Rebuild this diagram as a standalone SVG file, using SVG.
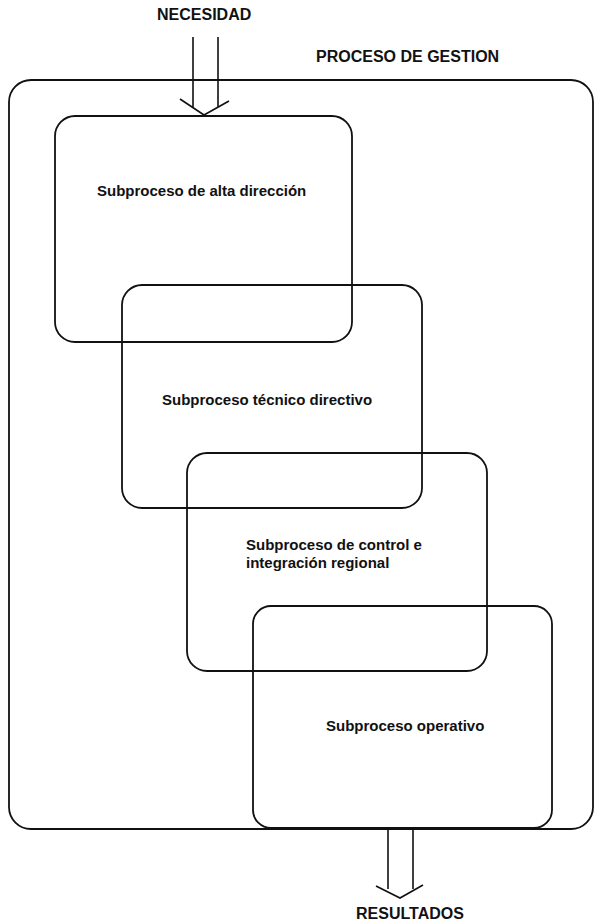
<svg xmlns="http://www.w3.org/2000/svg" width="597" height="922" viewBox="0 0 597 922">
<style>
.box{fill:none;stroke:#111;stroke-width:1.8}
.ln{fill:none;stroke:#111;stroke-width:1.6;stroke-linejoin:miter}
.t{font-family:"Liberation Sans",Arial,sans-serif;font-weight:bold;font-size:15px;fill:#111}
.c{font-family:"Liberation Sans",Arial,sans-serif;font-weight:bold;font-size:16px;fill:#111}
</style>
<rect width="597" height="922" fill="#fff"/>
<g id="proceso-gestion">
<rect class="box" x="9" y="80" width="584" height="749" rx="22"/>
<text class="c" x="316" y="62">PROCESO DE GESTION</text>
</g>
<g id="alta-direccion">
<rect class="box" x="55" y="116" width="297" height="226" rx="20"/>
<text class="t" x="97" y="196">Subproceso de alta dirección</text>
</g>
<g id="tecnico-directivo">
<rect class="box" x="122" y="285" width="300" height="223" rx="20"/>
<text class="t" x="162" y="405">Subproceso técnico directivo</text>
</g>
<g id="control-integracion">
<rect class="box" x="187" y="453" width="300" height="218" rx="20"/>
<text class="t" x="246" y="550">Subproceso de control e</text>
<text class="t" x="246" y="568">integración regional</text>
</g>
<g id="operativo">
<rect class="box" x="253" y="606" width="299" height="222" rx="18"/>
<text class="t" x="326" y="731">Subproceso operativo</text>
</g>
<g id="necesidad">
<text class="c" x="157" y="20">NECESIDAD</text>
</g>
<g id="resultados">
<text class="c" x="356" y="919">RESULTADOS</text>
</g>
<g id="connectors">
<path class="ln" d="M193,37 V107 M218,37 V107 M180,99 L204,115 L229,101"/>
<path class="ln" d="M388,828 V889 M413,828 V889 M376,886 L400,898 L423,885"/>
</g>
</svg>
